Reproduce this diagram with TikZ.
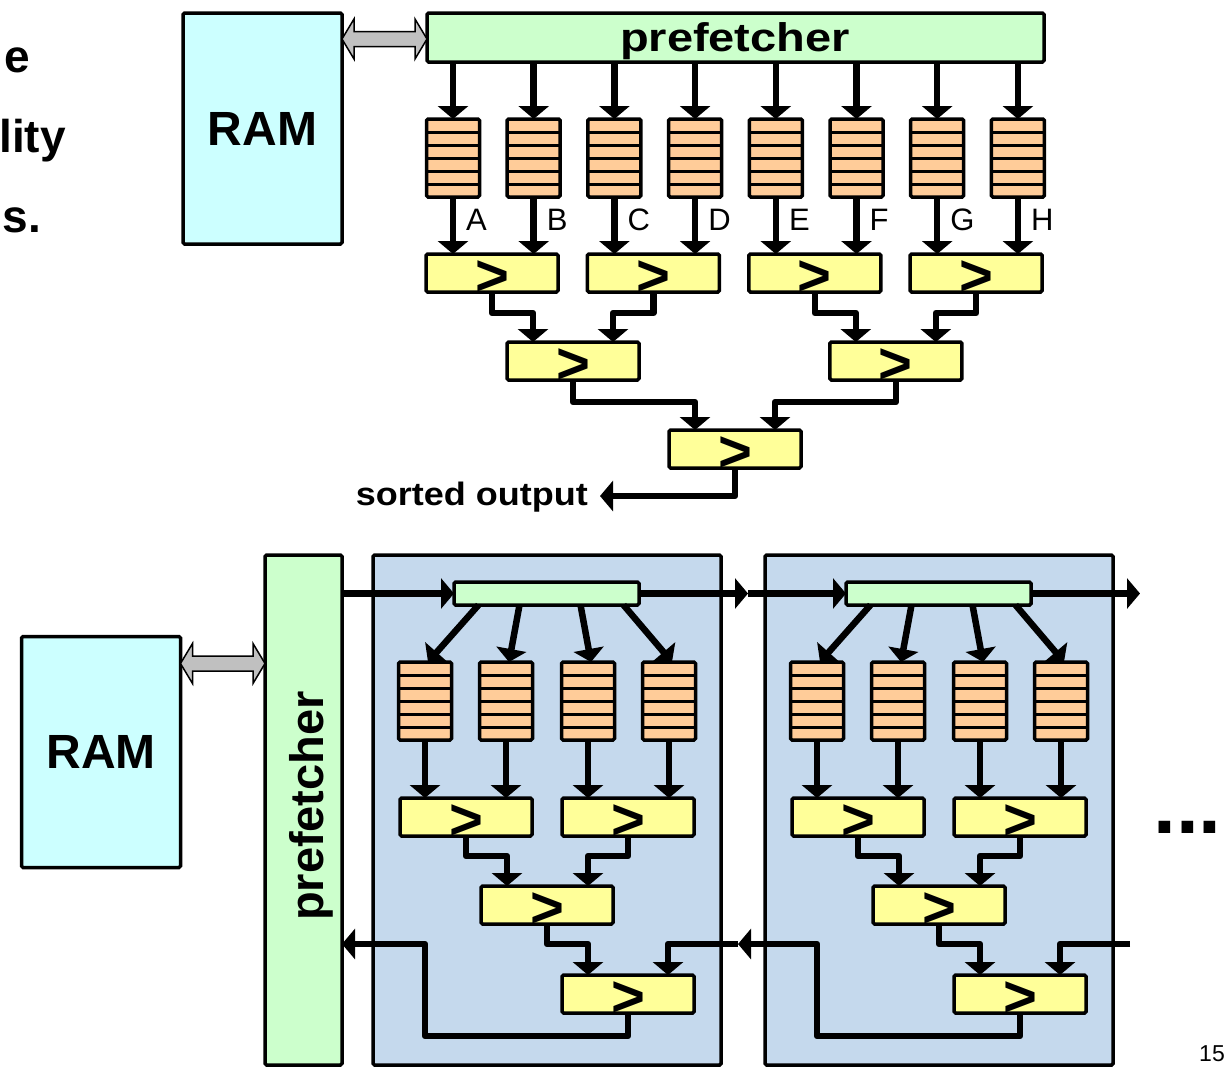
\documentclass[tikz,border=0pt]{standalone}
\usepackage{fontspec}
\setmainfont{Liberation Sans}
\usetikzlibrary{arrows.meta,calc}

\definecolor{ramc}{HTML}{CCFFFF}
\definecolor{pfc}{HTML}{CCFFCC}
\definecolor{fifoc}{HTML}{FFCC99}
\definecolor{cmpc}{HTML}{FFFF99}
\definecolor{panelc}{RGB}{197,217,237}
\definecolor{busc}{HTML}{C0C0C0}

% comparator symbol, centred on the box
\newcommand\gtsym{\raisebox{-22pt}[0pt][0pt]{>}}

% grey two-headed memory bus between two points at the same height
\newcommand\dblarrow[2]{%
  \path[dbl] let \p1=(#1), \p2=(#2) in
    (\x1,\y1) -- (\x1+12pt,\y1+20pt) -- (\x1+12pt,\y1+7.5pt)
    -- (\x2-12pt,\y1+7.5pt) -- (\x2-12pt,\y1+20pt) -- (\x2,\y1)
    -- (\x2-12pt,\y1-20pt) -- (\x2-12pt,\y1-7.5pt)
    -- (\x1+12pt,\y1-7.5pt) -- (\x1+12pt,\y1-20pt) -- cycle;}

\begin{document}
\begin{tikzpicture}[x=1pt, y=-1pt,
  box/.style={draw, line width=3.5pt, rounded corners=1.5pt, inner sep=0pt, outer sep=0pt},
  ram/.style={box, fill=ramc, minimum width=159pt, minimum height=231pt,
    font=\fontsize{48}{48}\selectfont\bfseries},
  pfbox/.style={box, fill=pfc},
  fifo/.style={box, fill=fifoc, minimum width=53pt, minimum height=78pt,
    path picture={\foreach \k in {1,...,5}{
      \draw[line width=3pt]
        ($(path picture bounding box.north west)!\k/6!(path picture bounding box.south west)$) --
        ($(path picture bounding box.north east)!\k/6!(path picture bounding box.south east)$);}}},
  cmp/.style={box, fill=cmpc, minimum width=132pt, minimum height=38pt,
    font=\fontsize{58}{58}\selectfont\bfseries},
  panel/.style={box, fill=panelc, minimum width=348pt, minimum height=510pt},
  arr/.style={line width=6.5pt, line join=round, -{Triangle[width=30pt,length=13pt]}},
  lbl/.style={font=\fontsize{31}{31}\selectfont, inner sep=0pt, anchor=base west},
  bigtxt/.style={font=\fontsize{46}{46}\selectfont\bfseries, inner sep=0pt, anchor=base east},
  dbl/.style={draw=black, line width=1.5pt, fill=busc, line join=miter},
]
\useasboundingbox (0,0) rectangle (1231,1066);

% ---------- cropped caption lines at the left margin ----------
\node[bigtxt] (t1) at (30,72) {e};
\node[bigtxt] (t2) at (66,152) {lity};
\node[bigtxt] (t3) at (41,232) {s.};

% ---------- upper diagram: one big merge tree ----------
\node[ram] (ramT) at (262.5,128.5) {RAM};
\node[pfbox, minimum width=617pt, minimum height=49pt] (pfT) at (735.5,37.5) {};
\node[font=\fontsize{47}{47}\selectfont\bfseries, inner sep=0pt] (pfTt) at (735,41)
  {\scalebox{1}[0.85]{prefetcher}};

\coordinate (dTa) at ($(ramT.north east)+(0,26)$);
\coordinate (dTb) at (dTa -| pfT.west);
\dblarrow{dTa}{dTb}

\foreach \j in {0,1,2,3}
  \node[cmp] (c\j) at ({492+161.4*\j},273) {\gtsym};

\foreach \i/\L/\j in {0/A/0,1/B/0,2/C/1,3/D/1,4/E/2,5/F/2,6/G/3,7/H/3} {
  \node[fifo] (f\i) at ({453+80.7*\i},158) {};
  \draw[arr] (f\i.north |- pfT.south) -- (f\i.north);
  \draw[arr] (f\i.south) -- (f\i.south |- c\j.north);
  \node[lbl] (lab\L) at ($(f\i.south)+(13,33)$) {\L};
}

\node[cmp] (d0) at (573,361) {\gtsym};
\node[cmp] (d1) at (895.8,361) {\gtsym};
\draw[arr] (c0.south) |- ($(d0.north)+(-40,-29)$) -- ($(d0.north)+(-40,0)$);
\draw[arr] (c1.south) |- ($(d0.north)+(40,-29)$) -- ($(d0.north)+(40,0)$);
\draw[arr] (c2.south) |- ($(d1.north)+(-40,-29)$) -- ($(d1.north)+(-40,0)$);
\draw[arr] (c3.south) |- ($(d1.north)+(40,-29)$) -- ($(d1.north)+(40,0)$);

\node[cmp] (e0) at (735,449) {\gtsym};
\draw[arr] (d0.south) |- ($(e0.north)+(-40,-28)$) -- ($(e0.north)+(-40,0)$);
\draw[arr] (d1.south) |- ($(e0.north)+(40,-28)$) -- ($(e0.north)+(40,0)$);

\coordinate (outT) at (600,496);
\draw[arr] (e0.south) |- (outT);
\node[font=\fontsize{36}{36}\selectfont\bfseries, inner sep=0pt, anchor=base east] (sorted)
  at (588,505) {\scalebox{1}[0.9]{sorted output}};

% ---------- lower diagram: chained merge modules ----------
\node[ram] (ramB) at (101,752) {RAM};
\node[pfbox, minimum width=77pt, minimum height=510pt] (pfB) at (303.5,810) {};
\node[font=\fontsize{47}{47}\selectfont\bfseries, inner sep=0pt, rotate=90] (pfBt) at (311,806)
  {prefetcher};

\coordinate (dBa) at ($(ramB.north east)+(0,27)$);
\coordinate (dBb) at (dBa -| pfB.west);
\dblarrow{dBa}{dBb}

\foreach \m/\dx in {1/0,2/392}
  \node[panel] (p\m) at (547+\dx,810) {};

\coordinate (in1) at (738,944);
\coordinate (in2) at (1130,944);
\coordinate (tgt1) at (pfB.east |- in1);
\coordinate (tgt2) at (in1);

\foreach \m/\dx in {1/0,2/392} {
  \node[pfbox, minimum width=185pt, minimum height=23pt] (b\m) at (546.5+\dx,593.5) {};
  \foreach \k/\fx in {1/425,2/506,3/588,4/669}
    \node[fifo] (m\m-f\k) at (\fx+\dx,701) {};
  \node[cmp] (m\m-c1) at (466+\dx,817) {\gtsym};
  \node[cmp] (m\m-c2) at (628+\dx,817) {\gtsym};
  \node[cmp] (m\m-d) at (547+\dx,905) {\gtsym};
  \node[cmp] (m\m-e) at (628+\dx,994) {\gtsym};
  % distribution from the local prefetch buffer
  \foreach \k/\sx in {1/-68,2/-27,3/34,4/77}
    \draw[arr] ($(b\m.south)+(\sx,0)$) -- ($(m\m-f\k.north)+(3,0)$);
  % FIFOs into the first comparator level
  \foreach \k/\c in {1/1,2/1,3/2,4/2}
    \draw[arr] (m\m-f\k.south) -- (m\m-f\k.south |- m\m-c\c.north);
  \draw[arr] (m\m-c1.south) |- ($(m\m-d.north)+(-40,-30)$) -- ($(m\m-d.north)+(-40,0)$);
  \draw[arr] (m\m-c2.south) |- ($(m\m-d.north)+(41,-30)$) -- ($(m\m-d.north)+(41,0)$);
  \draw[arr] (m\m-d.south) |- ($(m\m-e.north)+(-40,-31)$) -- ($(m\m-e.north)+(-40,0)$);
  % stream coming back from the next module
  \draw[arr] (in\m) -| ($(m\m-e.north)+(40,0)$);
  % merged output back towards the prefetcher
  \draw[arr] (m\m-e.south) -- ++(0,23) -| ($(m\m-f1.south)+(0,204)$) -- (tgt\m);
}

\coordinate (link) at (748,593.5);
\coordinate (tail) at (1140,593.5);
\draw[arr] (pfB.east |- b1.west) -- (b1.west);
\draw[arr] (b1.east) -- (link);
\draw[arr] (link) -- (b2.west);
\draw[arr] (b2.east) -- (tail);

\node[font=\fontsize{82}{82}\selectfont\bfseries, inner sep=0pt, anchor=base west] (dots)
  at (1153,833) {...};
\node[font=\fontsize{23}{23}\selectfont, inner sep=0pt, anchor=base west] (pg)
  at (1199,1061) {15};
\end{tikzpicture}
\end{document}
